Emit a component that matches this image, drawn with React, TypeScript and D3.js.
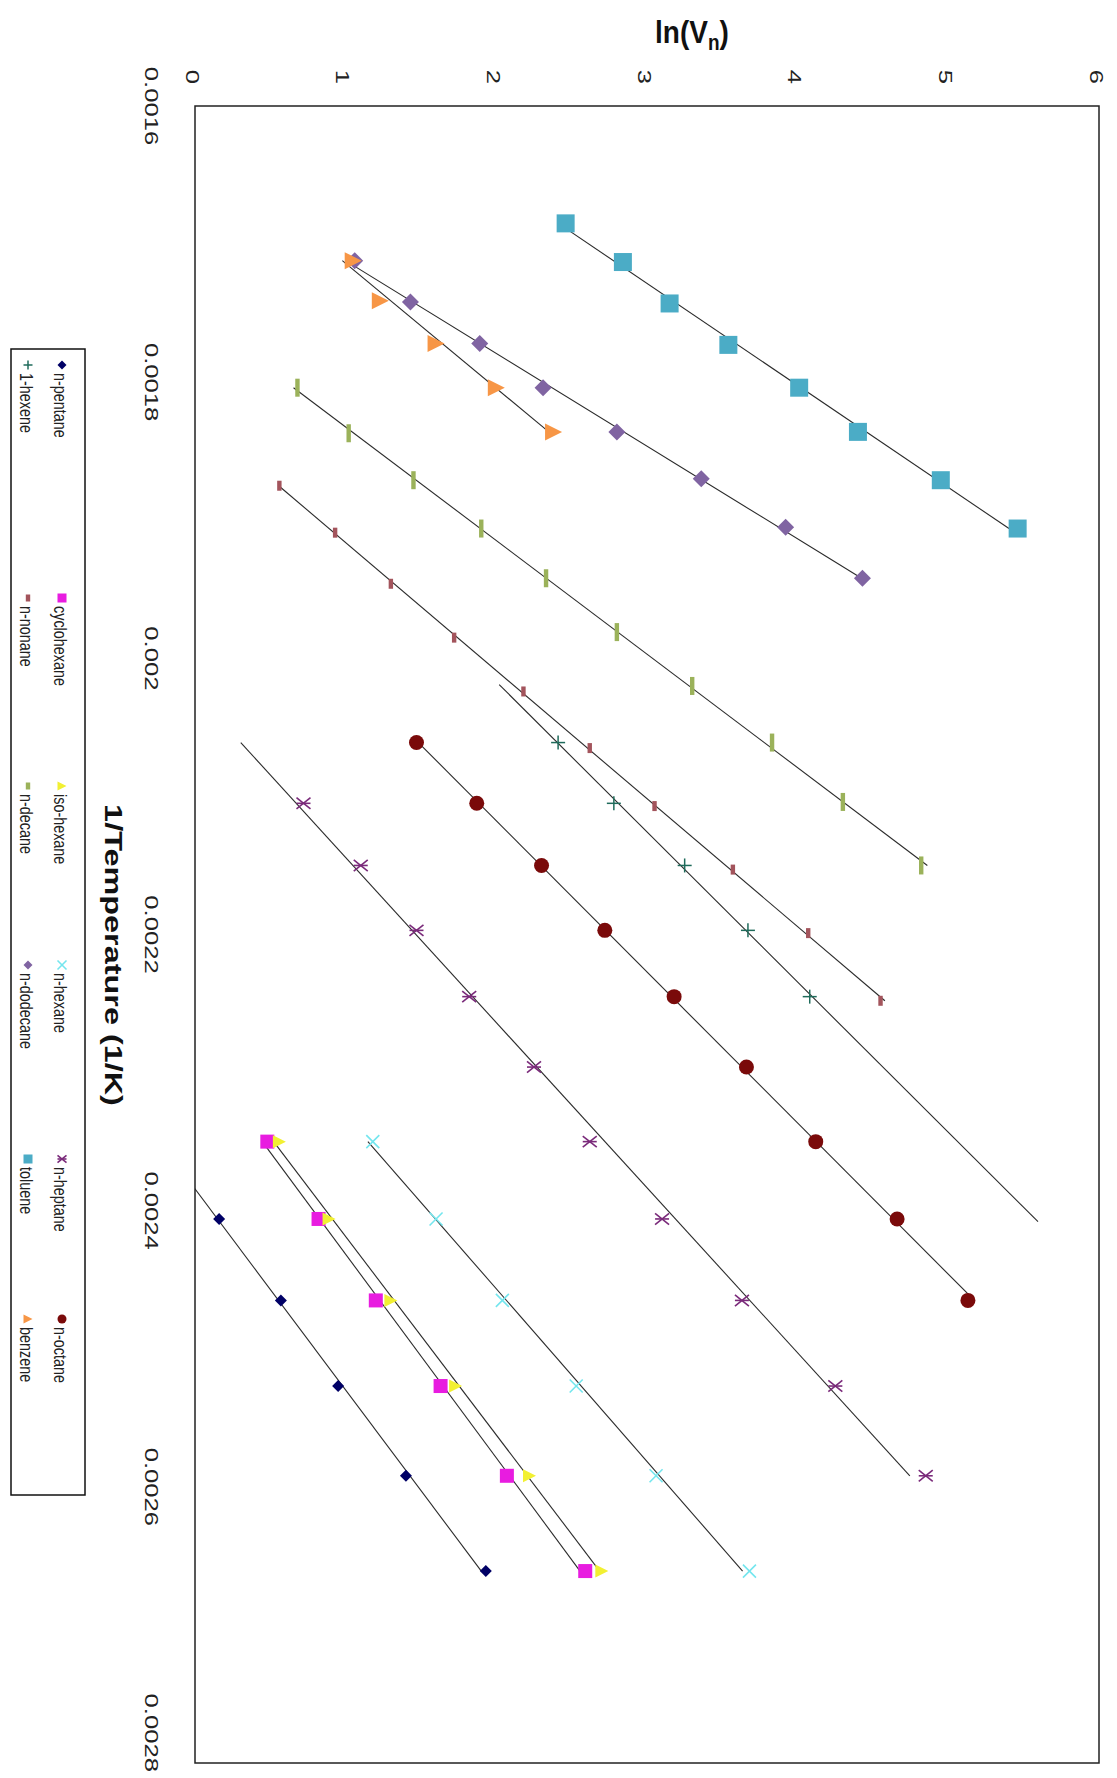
import * as d3 from 'd3';
import React from 'react';

// values (1/T in 1/K, ln(Vn))
const pentaneX = [0.002406, 0.002465, 0.002527, 0.002592, 0.002661];
const pentaneY = [0.16, 0.57, 0.95, 1.40, 1.93];
const cyclohexaneX = [0.002350, 0.002406, 0.002465, 0.002527, 0.002592, 0.002661];
const cyclohexaneY = [0.48, 0.82, 1.20, 1.63, 2.07, 2.59];
const isohexaneX = [0.002350, 0.002406, 0.002465, 0.002527, 0.002592, 0.002661];
const isohexaneY = [0.56, 0.89, 1.30, 1.73, 2.22, 2.70];
const hexaneX = [0.002350, 0.002406, 0.002465, 0.002527, 0.002592, 0.002661];
const hexaneY = [1.18, 1.60, 2.04, 2.53, 3.06, 3.68];
const heptaneX = [0.002105, 0.002150, 0.002197, 0.002245, 0.002296, 0.002350, 0.002406, 0.002465, 0.002527, 0.002592];
const heptaneY = [0.72, 1.10, 1.47, 1.82, 2.25, 2.62, 3.10, 3.63, 4.25, 4.85];
const octaneX = [0.002061, 0.002105, 0.002150, 0.002197, 0.002245, 0.002296, 0.002350, 0.002406, 0.002465];
const octaneY = [1.47, 1.87, 2.30, 2.72, 3.18, 3.66, 4.12, 4.66, 5.13];
const hexeneX = [0.002061, 0.002105, 0.002150, 0.002197, 0.002245];
const hexeneY = [2.41, 2.78, 3.25, 3.67, 4.08];
const nonaneX = [0.001875, 0.001909, 0.001946, 0.001985, 0.002024, 0.002065, 0.002107, 0.002153, 0.002199, 0.002248];
const nonaneY = [0.56, 0.93, 1.30, 1.72, 2.18, 2.62, 3.05, 3.57, 4.07, 4.55];
const decaneX = [0.001804, 0.001837, 0.001871, 0.001906, 0.001942, 0.001981, 0.002020, 0.002061, 0.002104, 0.002150];
const decaneY = [0.68, 1.02, 1.45, 1.90, 2.33, 2.80, 3.30, 3.83, 4.30, 4.82];
const dodecaneX = [0.001712, 0.001742, 0.001772, 0.001804, 0.001836, 0.001870, 0.001905, 0.001942];
const dodecaneY = [1.06, 1.43, 1.89, 2.31, 2.80, 3.36, 3.92, 4.43];
const tolueneX = [0.001685, 0.001713, 0.001743, 0.001773, 0.001804, 0.001836, 0.001871, 0.001906];
const tolueneY = [2.46, 2.84, 3.15, 3.54, 4.01, 4.40, 4.95, 5.46];
const benzeneX = [0.001712, 0.001741, 0.001772, 0.001804, 0.001836];
const benzeneY = [1.05, 1.23, 1.60, 2.00, 2.38];

// trendline forecast ranges where they differ from the data range
const pentaneTrend = [0.00235, 0.002661];
const heptaneTrend = [0.002061, 0.002592];
const hexeneTrend = [0.002019, 0.002408];

const invTTicks = [0.0016, 0.0018, 0.002, 0.0022, 0.0024, 0.0026, 0.0028];
const invTLabels = ['0.0016', '0.0018', '0.002', '0.0022', '0.0024', '0.0026', '0.0028'];
const lnTicks = [0, 1, 2, 3, 4, 5, 6];

const series = [
  { name: 'n-pentane', xs: pentaneX, ys: pentaneY, trend: pentaneTrend, marker: 'diamond', color: '#000066', size: 12 },
  { name: 'cyclohexane', xs: cyclohexaneX, ys: cyclohexaneY, marker: 'square', color: '#e81ce0', size: 14 },
  { name: 'iso-hexane', xs: isohexaneX, ys: isohexaneY, marker: 'triangle', color: '#f2f032', size: 13 },
  { name: 'n-hexane', xs: hexaneX, ys: hexaneY, marker: 'x', color: '#74e6ee', size: 13 },
  { name: 'n-heptane', xs: heptaneX, ys: heptaneY, trend: heptaneTrend, marker: 'star', color: '#7a2a7a', size: 14 },
  { name: 'n-octane', xs: octaneX, ys: octaneY, marker: 'circle', color: '#7a0a0a', size: 15 },
  { name: '1-hexene', xs: hexeneX, ys: hexeneY, trend: hexeneTrend, marker: 'plus', color: '#1f6b5b', size: 14 },
  { name: 'n-nonane', xs: nonaneX, ys: nonaneY, marker: 'shortbar', color: '#a3545c', size: 10 },
  { name: 'n-decane', xs: decaneX, ys: decaneY, marker: 'longbar', color: '#9bb25a', size: 18 },
  { name: 'n-dodecane', xs: dodecaneX, ys: dodecaneY, marker: 'diamond', color: '#8064a2', size: 17 },
  { name: 'toluene', xs: tolueneX, ys: tolueneY, marker: 'square', color: '#4bacc6', size: 18 },
  { name: 'benzene', xs: benzeneX, ys: benzeneY, marker: 'triangle', color: '#f79646', size: 17 },
];

const W = 1117;
const H = 1778;
const plot = { left: 195, right: 1099, top: 106, bottom: 1763 };

// chart is turned a quarter turn clockwise: ln(Vn) runs left->right, 1/T top->bottom
const xLn = d3.scaleLinear().domain([0, 6]).range([plot.left, plot.right]);
const yInv = d3.scaleLinear().domain([0.0016, 0.0028]).range([plot.top, plot.bottom]);

const font = '"Liberation Sans", Arial, sans-serif';

function fit(xs, ys) {
  const mx = d3.mean(xs), my = d3.mean(ys);
  const sxy = d3.sum(xs, (x, i) => (x - mx) * (ys[i] - my));
  const sxx = d3.sum(xs, (x) => (x - mx) * (x - mx));
  const b = sxy / sxx;
  return (x) => my + b * (x - mx);
}

function Marker({ type, color, size, cx, cy }) {
  const h = size / 2;
  switch (type) {
    case 'diamond':
      return <polygon points={`${cx},${cy - h} ${cx + h},${cy} ${cx},${cy + h} ${cx - h},${cy}`} fill={color} />;
    case 'square':
      return <rect x={cx - h} y={cy - h} width={size} height={size} fill={color} />;
    case 'triangle':
      return <polygon points={`${cx + h},${cy} ${cx - h},${cy - h} ${cx - h},${cy + h}`} fill={color} />;
    case 'circle':
      return <circle cx={cx} cy={cy} r={h} fill={color} />;
    case 'x':
      return (
        <g stroke={color} strokeWidth={1.6}>
          <line x1={cx - h} y1={cy - h} x2={cx + h} y2={cy + h} />
          <line x1={cx - h} y1={cy + h} x2={cx + h} y2={cy - h} />
        </g>
      );
    case 'star':
      return (
        <g stroke={color} strokeWidth={1.6}>
          <line x1={cx - h} y1={cy - h * 0.8} x2={cx + h} y2={cy + h * 0.8} />
          <line x1={cx - h} y1={cy + h * 0.8} x2={cx + h} y2={cy - h * 0.8} />
          <line x1={cx - h} y1={cy} x2={cx + h} y2={cy} />
        </g>
      );
    case 'plus':
      return (
        <g stroke={color} strokeWidth={1.5}>
          <line x1={cx - h} y1={cy} x2={cx + h} y2={cy} />
          <line x1={cx} y1={cy - h} x2={cx} y2={cy + h} />
        </g>
      );
    case 'shortbar':
    case 'longbar':
      return <rect x={cx - 2.2} y={cy - h} width={4.4} height={size} fill={color} />;
    default:
      return null;
  }
}

// legend slots (two columns, six items each)
const legendCols = [62, 28];
const legendRows = [365, 598, 786, 965, 1159, 1319];

export default function App() {
  return (
    <div style={{ position: 'absolute', left: 0, top: 0 }}>
      <svg width={W} height={H} style={{ display: 'block', background: '#fff' }}>
        <defs>
          <clipPath id="plotClip">
            <rect x={plot.left} y={plot.top} width={plot.right - plot.left} height={plot.bottom - plot.top} />
          </clipPath>
        </defs>
        <rect x={0} y={0} width={W} height={H} fill="#fff" />

        {/* trendlines */}
        <g clipPath="url(#plotClip)" stroke="#2a2a2a" strokeWidth={1.1} fill="none">
          {series.map((s) => {
            const f = fit(s.xs, s.ys);
            const [a, b] = s.trend || d3.extent(s.xs);
            return <line key={s.name} x1={xLn(f(a))} y1={yInv(a)} x2={xLn(f(b))} y2={yInv(b)} />;
          })}
        </g>

        {/* markers */}
        <g clipPath="url(#plotClip)">
          {series.map((s) => (
            <g key={s.name}>
              {s.xs.map((x, i) => (
                <Marker key={i} type={s.marker} color={s.color} size={s.size} cx={xLn(s.ys[i])} cy={yInv(x)} />
              ))}
            </g>
          ))}
        </g>

        {/* plot frame */}
        <rect x={plot.left} y={plot.top} width={plot.right - plot.left} height={plot.bottom - plot.top}
          fill="none" stroke="#222" strokeWidth={1.5} />

        {/* ln(Vn) tick labels along the top */}
        {lnTicks.map((v) => (
          <text key={v} transform={`translate(${xLn(v) - 3},77) rotate(90) scale(1.35,1)`}
            textAnchor="middle" dominantBaseline="central" fontFamily={font} fontSize={19} fill="#222">
            {v}
          </text>
        ))}

        {/* 1/T tick labels along the left; the last one is pulled up to stay on the page */}
        {invTTicks.map((v, i) => {
          const last = i === invTTicks.length - 1;
          const y = last ? H - 6 : yInv(v);
          return (
            <text key={v} transform={`translate(151,${y}) rotate(90) scale(1.35,1)`}
              textAnchor={last ? 'end' : 'middle'} dominantBaseline="central" fontFamily={font} fontSize={19} fill="#222">
              {invTLabels[i]}
            </text>
          );
        })}

        {/* axis titles */}
        <text x={692} y={44} textAnchor="middle" fontFamily={font} fontWeight="bold" fontSize={28}
          transform="translate(0,-6) scale(1,1.12)" fill="#111">
          ln(V<tspan fontSize={19} dy={6}>n</tspan><tspan dy={-6}>)</tspan>
        </text>
        <text transform={`translate(113,955) rotate(90) scale(1.35,1)`} textAnchor="middle"
          dominantBaseline="central" fontFamily={font} fontWeight="bold" fontSize={24} fill="#111">
          1/Temperature (1/K)
        </text>

        {/* legend */}
        <rect x={11} y={349} width={74} height={1146} fill="#fff" stroke="#111" strokeWidth={1.5} />
        {series.map((s, i) => {
          const cx = legendCols[Math.floor(i / 6)];
          const cy = legendRows[i % 6];
          return (
            <g key={s.name}>
              <Marker type={s.marker} color={s.color} size={s.marker.endsWith('bar') ? 7 : 9} cx={cx} cy={cy} />
              <text transform={`translate(${cx - 1},${cy + 8}) rotate(90) scale(0.8,1)`} dominantBaseline="central"
                fontFamily={font} fontSize={18} fill="#222">
                {s.name}
              </text>
            </g>
          );
        })}
      </svg>
    </div>
  );
}
